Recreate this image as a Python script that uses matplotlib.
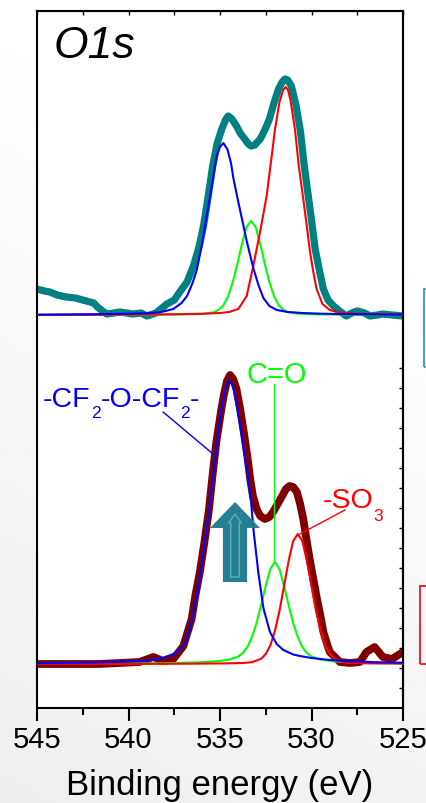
import numpy as np
import matplotlib
matplotlib.use("Agg")
import matplotlib.pyplot as plt
from matplotlib.patches import FancyArrow, Rectangle
from matplotlib.transforms import offset_copy

plt.rcParams['font.family'] = ['Liberation Sans', 'DejaVu Sans']

# ---------------- data (binding energy in eV, intensity in a.u.) ----------------
x_ticks = [545, 540, 535, 530, 525]
x_label = "Binding energy (eV)"

# top spectrum (measured)
top_data_e = [545.0, 544.6, 544.3, 543.9, 543.4, 542.9, 542.3, 541.9, 541.7, 541.2, 540.8, 540.5, 540.1,
              539.75, 539.3, 539.0, 538.5, 537.9, 537.5, 537.2, 536.8, 536.45, 536.15, 535.9, 535.65, 535.4,
              535.15, 534.9, 534.7, 534.55, 534.35, 534.1, 533.9, 533.65, 533.45, 533.3, 533.1, 532.8,
              532.55, 532.3, 532.05, 531.8, 531.6, 531.45, 531.3, 531.1, 530.85, 530.6, 530.4, 530.25,
              530.0, 529.8, 529.55, 529.35, 529.1, 528.8, 528.4, 528.1, 527.8, 527.5, 527.1, 526.8,
              526.4, 526.1, 525.6, 525.0]
top_data_i = [0.26, 0.24, 0.23, 0.20, 0.18, 0.17, 0.14, 0.12, 0.08, 0.01, 0.02, 0.03, 0.02,
              0.01, 0.02, -0.01, 0.02, 0.11, 0.15, 0.23, 0.33, 0.49, 0.68, 0.89, 1.18, 1.49,
              1.72, 1.86, 1.95, 1.99, 1.96, 1.89, 1.82, 1.76, 1.71, 1.69, 1.70, 1.76,
              1.85, 1.96, 2.12, 2.26, 2.33, 2.36, 2.35, 2.29, 2.10, 1.83, 1.50, 1.29,
              0.95, 0.66, 0.43, 0.26, 0.15, 0.09, 0.03, -0.01, 0.02, 0.04, 0.02, -0.01,
              0.0, 0.01, 0.0, -0.01]

# top fit components
top_blue_e = [545.0, 542.0, 540.0, 539.0, 538.2, 537.55, 537.1, 536.8, 536.5, 536.27, 536.0, 535.73, 535.45,
              535.18, 535.0, 534.82, 534.6, 534.4, 534.27, 534.0, 533.81, 533.54, 533.18, 532.9, 532.63,
              532.3, 531.9, 531.3, 530.5, 529.5, 528.0, 526.0, 525.0]
top_blue_i = [0.003, 0.008, 0.012, 0.018, 0.03, 0.06, 0.12, 0.19, 0.32, 0.45, 0.69, 0.99, 1.29,
              1.59, 1.68, 1.72, 1.66, 1.52, 1.37, 1.13, 0.97, 0.74, 0.47, 0.30, 0.17,
              0.09, 0.05, 0.03, 0.02, 0.013, 0.008, 0.005, 0.004]

top_green_e = [545.0, 541.3, 539.3, 537.3, 536.3, 535.8, 535.3, 535.05, 534.8, 534.55, 534.3, 534.05, 533.8,
               533.55, 533.3, 533.05, 532.8, 532.55, 532.3, 532.05, 531.8, 531.55, 531.3, 530.8, 530.3,
               529.3, 527.3, 525.0]
top_green_i = [0.001, 0.0014, 0.002, 0.005, 0.009, 0.014, 0.030, 0.054, 0.10, 0.19, 0.33, 0.51, 0.71,
               0.88, 0.94, 0.88, 0.71, 0.51, 0.33, 0.19, 0.10, 0.054, 0.030, 0.014, 0.009,
               0.005, 0.002, 0.001]

top_red_e = [545.0, 541.0, 538.0, 536.0, 535.0, 534.5, 534.0, 533.54, 533.18, 532.81, 532.45, 532.2, 532.0,
             531.75, 531.55, 531.41, 531.28, 531.15, 530.9, 530.7, 530.45, 530.25, 530.08, 529.9, 529.72,
             529.4, 529.0, 528.5, 527.5, 526.0, 525.0]
top_red_i = [0.001, 0.003, 0.006, 0.012, 0.02, 0.03, 0.06, 0.19, 0.49, 0.83, 1.19, 1.55, 1.85,
             2.13, 2.25, 2.28, 2.25, 2.15, 1.85, 1.50, 1.16, 0.88, 0.63, 0.43, 0.26,
             0.11, 0.05, 0.025, 0.012, 0.006, 0.005]

# bottom spectrum (measured)
bot_data_e = [545.0, 543.0, 541.6, 540.5, 539.4, 538.65, 538.1, 537.55, 537.0, 536.8, 536.55, 536.35, 536.1,
              535.85, 535.6, 535.4, 535.2, 534.95, 534.8, 534.62, 534.45, 534.28, 534.1, 533.9, 533.7,
              533.5, 533.35, 533.2, 533.0, 532.8, 532.55, 532.3, 532.1, 531.85, 531.6, 531.4, 531.2,
              531.0, 530.8, 530.62, 530.45, 530.28, 530.1, 529.9, 529.7, 529.5, 529.35, 529.15, 529.0,
              528.45, 527.9, 527.35, 527.0, 526.55, 526.1, 525.6, 525.0]
bot_data_i = [0.0, 0.0, 0.0, 0.01, 0.02, 0.07, 0.03, 0.05, 0.18, 0.30, 0.45, 0.68, 0.92,
              1.22, 1.55, 1.90, 2.22, 2.52, 2.68, 2.83, 2.89, 2.85, 2.75, 2.55, 2.32,
              2.07, 1.85, 1.68, 1.55, 1.48, 1.45, 1.47, 1.52, 1.60, 1.68, 1.75, 1.78,
              1.77, 1.72, 1.60, 1.45, 1.25, 1.05, 0.85, 0.65, 0.47, 0.32, 0.20, 0.12,
              0.02, 0.01, 0.02, 0.12, 0.17, 0.07, 0.05, 0.12]

# bottom fit components
bot_blue_e = [545.0, 542.0, 540.0, 539.0, 538.3, 537.4, 537.0, 536.8, 536.55, 536.3, 536.1, 535.85, 535.6,
              535.37, 535.2, 535.0, 534.8, 534.65, 534.5, 534.35, 534.25, 534.0, 533.75, 533.54, 533.3,
              533.18, 532.91, 532.63, 532.27, 531.9, 531.54, 531.0, 530.63, 530.0, 529.0, 528.0, 526.5, 525.0]
bot_blue_i = [0.008, 0.015, 0.025, 0.035, 0.05, 0.11, 0.18, 0.27, 0.43, 0.66, 0.88, 1.20, 1.53,
              1.90, 2.17, 2.45, 2.66, 2.78, 2.83, 2.80, 2.75, 2.50, 2.22, 1.95, 1.62,
              1.36, 0.92, 0.56, 0.32, 0.20, 0.14, 0.095, 0.08, 0.06, 0.04, 0.028, 0.018, 0.013]

bot_green_e = [545.0, 544.0, 540.0, 538.0, 536.0, 535.0, 534.5, 534.0, 533.75, 533.5, 533.25, 533.0, 532.75,
               532.5, 532.25, 532.0, 531.75, 531.5, 531.25, 531.0, 530.75, 530.5, 530.25, 530.0, 529.5,
               529.0, 528.0, 526.0, 525.0]
bot_green_i = [0.002, 0.002, 0.005, 0.008, 0.017, 0.031, 0.044, 0.075, 0.11, 0.17, 0.27, 0.41, 0.59,
               0.78, 0.95, 1.02, 0.95, 0.78, 0.59, 0.41, 0.27, 0.17, 0.11, 0.075, 0.044,
               0.031, 0.017, 0.008, 0.006]

bot_red_e = [545.0, 538.75, 536.75, 534.75, 533.75, 533.25, 532.75, 532.5, 532.25, 532.0, 531.75, 531.5,
             531.25, 531.0, 530.75, 530.5, 530.25, 530.0, 529.75, 529.5, 529.25, 529.0, 528.75, 528.25,
             527.75, 526.75, 525.0]
bot_red_i = [0.0005, 0.0013, 0.003, 0.006, 0.010, 0.018, 0.052, 0.10, 0.185, 0.33, 0.53, 0.78,
             1.03, 1.23, 1.30, 1.23, 1.03, 0.78, 0.53, 0.33, 0.185, 0.10, 0.052, 0.018,
             0.010, 0.006, 0.004]

OFFSET_TOP = 3.93
OFFSET_BOTTOM = 0.44

TEAL = '#008080'
DARKRED = '#800000'
BLUE = '#0000ff'
GREEN = '#00ff00'
RED = '#ff0000'

# ---------------- figure ----------------
fig = plt.figure(figsize=(4.27, 8.04), dpi=100)

# light background gradient
bg = fig.add_axes([0, 0, 1, 1], zorder=-10)
yy = np.linspace(0, 1, 300)[:, None]
xx = np.linspace(0, 1, 300)[None, :]
t = np.clip(yy * 1.0 + (1 - xx) * 0.3 - 0.3, 0, 1)
bg.imshow(1.0 - 0.065 * t, cmap='gray', vmin=0, vmax=1, aspect='auto', extent=[0, 1, 0, 1])
bg.axis('off')

ax = fig.add_axes([37 / 427, 95 / 804, 366 / 427, 697 / 804])
ax.set_facecolor('white')
ax.set_xlim(545, 525)
ax.set_ylim(0, 6.97)


def add(arr, off):
    return np.asarray(arr) + off


lkw = dict(solid_capstyle='round', solid_joinstyle='round')
# measured spectra
ax.plot(top_data_e, add(top_data_i, OFFSET_TOP), color=TEAL, lw=5.2, zorder=2, **lkw)
ax.plot(bot_data_e, add(bot_data_i, OFFSET_BOTTOM), color=DARKRED, lw=5.6, zorder=2, **lkw)
# components
for e, i, c in [(top_green_e, top_green_i, GREEN), (top_red_e, top_red_i, RED), (top_blue_e, top_blue_i, BLUE)]:
    ax.plot(e, add(i, OFFSET_TOP), color=c, lw=1.5, zorder=3, **lkw)
for e, i, c in [(bot_green_e, bot_green_i, GREEN), (bot_red_e, bot_red_i, RED), (bot_blue_e, bot_blue_i, BLUE)]:
    ax.plot(e, add(i, OFFSET_BOTTOM), color=c, lw=1.5, zorder=3, **lkw)

renderer = fig.canvas.get_renderer()


def chem_label(x, y, parts, color, size=20.5, subsize=12.5, drop=12):
    """parts: list of (text, is_subscript); placed left to right from (x, y) baseline."""
    dx = 0.0
    for s, sub in parts:
        tr = offset_copy(ax.transData, fig=fig, x=dx, y=(-drop if sub else 0), units='dots')
        tt = ax.text(x, y, s, transform=tr, fontsize=subsize if sub else size, color=color,
                     ha='left', va='baseline', zorder=8)
        dx += tt.get_window_extent(renderer).width


# labels with leader lines
ax.plot([532.03, 532.03], [3.24, 1.46], color=GREEN, lw=1, zorder=3)
ax.text(531.89, 3.257, 'C=O', color=GREEN, fontsize=21, ha='center', va='baseline')

ax.plot([538.11, 535.38], [2.96, 2.54], color=BLUE, lw=1, zorder=3)
chem_label(544.67, 3.023, [('-CF', False), ('2', True), ('-O-CF', False), ('2', True), ('-', False)],
           BLUE, drop=11)

ax.plot([528.17, 530.63], [1.98, 1.74], color=RED, lw=1, zorder=3)
chem_label(529.39, 2.007, [('-SO', False), ('3', True)], RED, drop=13)

ax.text(0.156, 0.950, 'O1s', transform=ax.transAxes, fontsize=32, style='italic',
        ha='center', va='center')

# big arrow
ax.add_patch(FancyArrow(534.18, 1.26, 0, 0.80, width=1.32, head_width=2.73, head_length=0.26,
                        length_includes_head=True, facecolor='#1f7a8c', edgecolor='none',
                        alpha=0.97, zorder=6))
ax.add_patch(FancyArrow(534.18, 1.31, 0, 0.63, width=0.47, head_width=0.70, head_length=0.09,
                        length_includes_head=True, facecolor='none', edgecolor='#4db2c8',
                        lw=1.1, zorder=7))

# axes styling
for s in ax.spines.values():
    s.set_linewidth(1.5)
    s.set_color('black')
ax.set_xticks(x_ticks)
ax.set_xticks([542.5, 537.5, 532.5, 527.5], minor=True)
ax.tick_params(axis='x', which='major', direction='out', length=9, width=1.5, labelsize=21, pad=3,
               top=False)
ax.tick_params(axis='x', which='minor', direction='out', length=5, width=1.5, top=False)
ax.set_yticks([])
ax.set_xlabel(x_label, fontsize=25, labelpad=11)

secx = ax.secondary_xaxis('top')
secx.set_xticks(np.arange(525, 545.1, 2.5))
secx.tick_params(direction='in', length=3, width=1, labeltop=False)
secx.spines['top'].set_linewidth(1.5)

secy = ax.secondary_yaxis('right')
secy.set_yticks(np.arange(0.2, 3.5, 0.2))
secy.tick_params(direction='in', length=3, width=1, labelright=False)
secy.spines['right'].set_linewidth(1.5)

# clipped boxes at right edge
fig.patches.append(Rectangle((424 / 427, 436 / 804), 0.05, 78 / 804, transform=fig.transFigure,
                             fill=False, edgecolor='#3ea8c8', lw=1.5, figure=fig))
fig.patches.append(Rectangle((420 / 427, 139 / 804), 0.05, 78 / 804, transform=fig.transFigure,
                             fill=False, edgecolor='#e0303a', lw=1.5, figure=fig))

fig.savefig('out.png', dpi=100)
